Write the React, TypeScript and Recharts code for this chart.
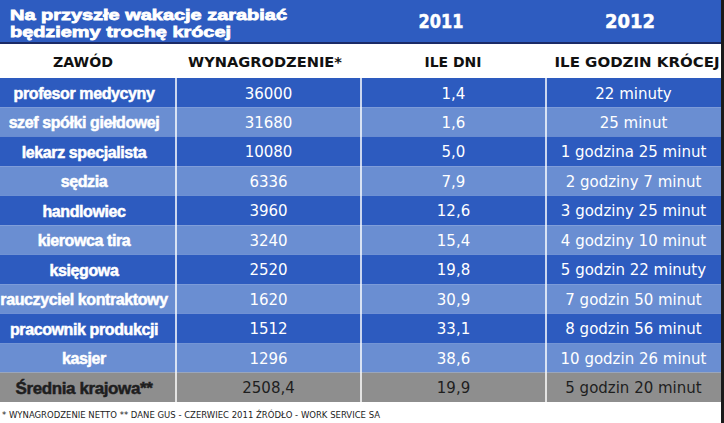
import React from 'react';
import { BarChart, Bar, XAxis, YAxis, ReferenceLine } from 'recharts';

const titleLines = ['Na przyszłe wakacje zarabiać', 'będziemy trochę krócej'];
const yearLabels = ['2011', '2012'];
const columnHeaders = ['ZAWÓD', 'WYNAGRODZENIE*', 'ILE DNI', 'ILE GODZIN KRÓCEJ'];
const professions = [
  'profesor medycyny',
  'szef spółki giełdowej',
  'lekarz specjalista',
  'sędzia',
  'handlowiec',
  'kierowca tira',
  'księgowa',
  'rauczyciel kontraktowy',
  'pracownik produkcji',
  'kasjer',
];
const salaries = [36000, 31680, 10080, 6336, 3960, 3240, 2520, 1620, 1512, 1296];
const daysShorter2011 = [1.4, 1.6, 5.0, 7.9, 12.6, 15.4, 19.8, 30.9, 33.1, 38.6];
const hoursShorter2012 = [
  '22 minuty',
  '25 minut',
  '1 godzina 25 minut',
  '2 godziny 7 minut',
  '3 godziny 25 minut',
  '4 godziny 10 minut',
  '5 godzin 22 minuty',
  '7 godzin 50 minut',
  '8 godzin 56 minut',
  '10 godzin 26 minut',
];
const averageLabel = 'Średnia krajowa**';
const averageSalary = 2508.4;
const averageDays = 19.9;
const averageHours = '5 godzin 20 minut';
const footnote = '* WYNAGRODZENIE NETTO   ** DANE GUS - CZERWIEC 2011 ŹRÓDŁO - WORK SERVICE SA';

// layout / style constants
const COL_WIDTHS = [176, 185, 185, 175];
const TABLE_W = COL_WIDTHS.reduce((a, b) => a + b, 0);
const BLUE = '#2e5cc0';
const DARK = '#2d5bbf';
const LIGHT = '#6a8ed2';
const GRAY = '#8e8e8e';
const NAVY = '#1b2b66';

const fmtDays = (v: number) => v.toFixed(1).replace('.', ',');
const fmtSalary = (v: number) => String(v).replace('.', ',');

const rows = [
  ...professions.map((p, i) => ({
    name: p,
    kind: i % 2 === 0 ? 'dark' : 'light',
    t0: p,
    t1: fmtSalary(salaries[i]),
    t2: fmtDays(daysShorter2011[i]),
    t3: hoursShorter2012[i],
  })),
  {
    name: averageLabel,
    kind: 'avg',
    t0: averageLabel,
    t1: fmtSalary(averageSalary),
    t2: fmtDays(averageDays),
    t3: averageHours,
  },
].map((r) => ({ ...r, w0: COL_WIDTHS[0], w1: COL_WIDTHS[1], w2: COL_WIDTHS[2], w3: COL_WIDTHS[3] }));

const makeCell = (col: number) => (props: any) => {
  const { x, y, width, height, payload } = props;
  const kind = payload.kind;
  const fill = kind === 'avg' ? GRAY : kind === 'dark' ? DARK : LIGHT;
  const isFirst = col === 0;
  const isAvg = kind === 'avg';
  const color = isAvg ? '#1e1e1e' : '#ffffff';
  return (
    <g>
      <rect x={x} y={y} width={width} height={height + 0.5} fill={fill} />
      <text
        x={x + width / 2 - (isFirst ? 4 : 0)}
        y={y + height / 2 + 1}
        dominantBaseline="central"
        textAnchor="middle"
        fill={color}
        stroke={isFirst ? color : 'none'}
        strokeWidth={isFirst ? 0.5 : 0}
        fontFamily={isFirst ? '"Liberation Sans", Arial, sans-serif' : '"DejaVu Sans", sans-serif'}
        fontWeight={isFirst ? 700 : 400}
        fontSize={isFirst ? (isAvg ? 17 : 16) : 15}
        letterSpacing={isFirst ? -0.4 : 0}
      >
        {payload[`t${col}`]}
      </text>
    </g>
  );
};

const headerXs = [83, 265, 453, 637];
const headerWidths = [60, 154, 57, 165];

export default function App() {
  const sepXs: number[] = [];
  let acc = 0;
  COL_WIDTHS.slice(0, 3).forEach((w) => {
    acc += w;
    sepXs.push(acc);
  });
  return (
    <div style={{ position: 'absolute', left: 0, top: 0, width: 724, height: 423, background: '#fff', overflow: 'hidden' }}>
      <svg width={724} height={78} style={{ display: 'block' }}>
        <rect x={0} y={0} width={TABLE_W} height={43} fill={BLUE} />
        <rect x={0} y={42} width={TABLE_W} height={2} fill={NAVY} />
        <text x={10} y={20} fill="#fff" stroke="#fff" strokeWidth={0.8} fontFamily='"Liberation Sans", Arial, sans-serif' fontWeight={900} fontSize={15.5} textLength={277} lengthAdjust="spacingAndGlyphs">
          {titleLines[0]}
        </text>
        <text x={10} y={37} fill="#fff" stroke="#fff" strokeWidth={0.8} fontFamily='"Liberation Sans", Arial, sans-serif' fontWeight={900} fontSize={15.5} textLength={221} lengthAdjust="spacingAndGlyphs">
          {titleLines[1]}
        </text>
        <text x={441} y={28} textAnchor="middle" fill="#fff" stroke="#fff" strokeWidth={0.5} fontFamily='"DejaVu Sans", sans-serif' fontWeight={700} fontSize={19} textLength={45} lengthAdjust="spacingAndGlyphs">
          {yearLabels[0]}
        </text>
        <text x={630} y={28} textAnchor="middle" fill="#fff" stroke="#fff" strokeWidth={0.5} fontFamily='"DejaVu Sans", sans-serif' fontWeight={700} fontSize={19} textLength={50} lengthAdjust="spacingAndGlyphs">
          {yearLabels[1]}
        </text>
        {columnHeaders.map((h, i) => (
          <text
            key={h}
            x={headerXs[i]}
            y={67}
            textAnchor="middle"
            fill="#111"
            fontFamily='"DejaVu Sans", sans-serif'
            fontWeight={700}
            fontSize={14}
            textLength={headerWidths[i]}
            lengthAdjust="spacingAndGlyphs"
          >
            {h}
          </text>
        ))}
      </svg>
      <BarChart
        width={724}
        height={324}
        data={rows}
        layout="vertical"
        margin={{ top: 0, right: 724 - TABLE_W, bottom: 0, left: 0 }}
        barCategoryGap={0}
        barGap={0}
      >
        <XAxis type="number" hide domain={[0, TABLE_W]} allowDataOverflow />
        <YAxis type="category" dataKey="name" hide />
        {[0, 1, 2, 3].map((c) => (
          <Bar key={c} dataKey={`w${c}`} stackId="cells" shape={makeCell(c)} isAnimationActive={false} />
        ))}
        {sepXs.map((x) => (
          <ReferenceLine key={x} x={x} stroke="#ffffff" strokeWidth={1.5} />
        ))}
      </BarChart>
      <svg width={724} height={21} style={{ display: 'block' }}>
        <text x={2} y={16} fill="#222" fontFamily='"DejaVu Sans", sans-serif' fontSize={9} textLength={378} lengthAdjust="spacingAndGlyphs">
          {footnote}
        </text>
      </svg>
      <div style={{ position: 'absolute', left: TABLE_W, top: 0, width: 724 - TABLE_W, height: 423, background: '#1a1a1a' }} />
    </div>
  );
}
